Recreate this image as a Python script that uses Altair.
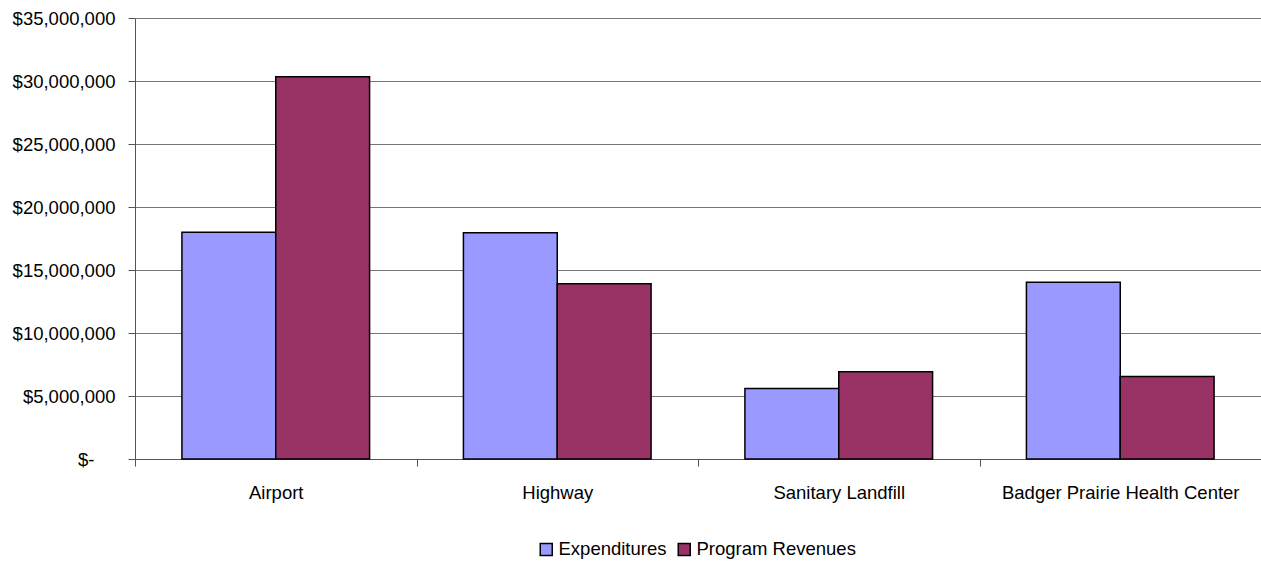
import altair as alt
import pandas as pd

categories = ["Airport", "Highway", "Sanitary Landfill", "Badger Prairie Health Center"]
expenditures = [18000000, 17950000, 5600000, 14020000]
revenues = [30330000, 13900000, 6920000, 6550000]
series = ["Expenditures", "Program Revenues"]
colors = ["#9999FF", "#993366"]
y_ticks = [0, 5000000, 10000000, 15000000, 20000000, 25000000, 30000000, 35000000]

rows = []
for c, e, r in zip(categories, expenditures, revenues):
    rows.append({"category": c, "series": series[0], "value": e})
    rows.append({"category": c, "series": series[1], "value": r})
df = pd.DataFrame(rows)

FONT = "Liberation Sans"
FS = 18.5

chart = alt.Chart(df).mark_bar(stroke="black", strokeWidth=1.5).encode(
    x=alt.X("category:N", sort=categories, title=None,
            scale=alt.Scale(paddingInner=1/3, paddingOuter=1/6),
            axis=alt.Axis(labelAngle=0, bandPosition=0, tickOffset=-46.9, labelOffset=46.9,
                          tickSize=7, labelPadding=17, labelLimit=0,
                          domainColor="#555", tickColor="#555", labelFontSize=FS,
                          labelColor="black", labelFont=FONT, grid=False)),
    xOffset=alt.XOffset("series:N", sort=series,
                        scale=alt.Scale(paddingInner=0, paddingOuter=0)),
    y=alt.Y("value:Q", title=None,
            scale=alt.Scale(domain=[0, 35000000], nice=False),
            axis=alt.Axis(values=y_ticks, tickSize=7,
                          labelPadding={"condition": {"test": "datum.value == 0", "value": 34}, "value": 13},
                          labelExpr="datum.value == 0 ? '$-' : '$' + format(datum.value, ',')",
                          domainColor="#555", tickColor="#555", gridColor="#777",
                          labelFontSize=FS, labelColor="black", labelFont=FONT)),
    color=alt.Color("series:N", sort=series,
                    scale=alt.Scale(domain=series, range=colors),
                    legend=alt.Legend(title=None, orient="none", direction="horizontal",
                                      legendX=402, legendY=522, symbolType="square",
                                      symbolSize=144, symbolStrokeColor="black",
                                      symbolStrokeWidth=1.5, symbolOpacity=1,
                                      labelFontSize=FS, labelFont=FONT, labelColor="black",
                                      labelOffset=3, columnPadding=8, labelLimit=0)),
).properties(
    width=1126, height=441,
    autosize=alt.AutoSizeParams(type="none"),
    padding={"left": 135, "top": 18, "right": 0, "bottom": 106},
).configure_view(stroke=None)

chart.save("out.html", embed_options={"renderer": "svg", "actions": False})
